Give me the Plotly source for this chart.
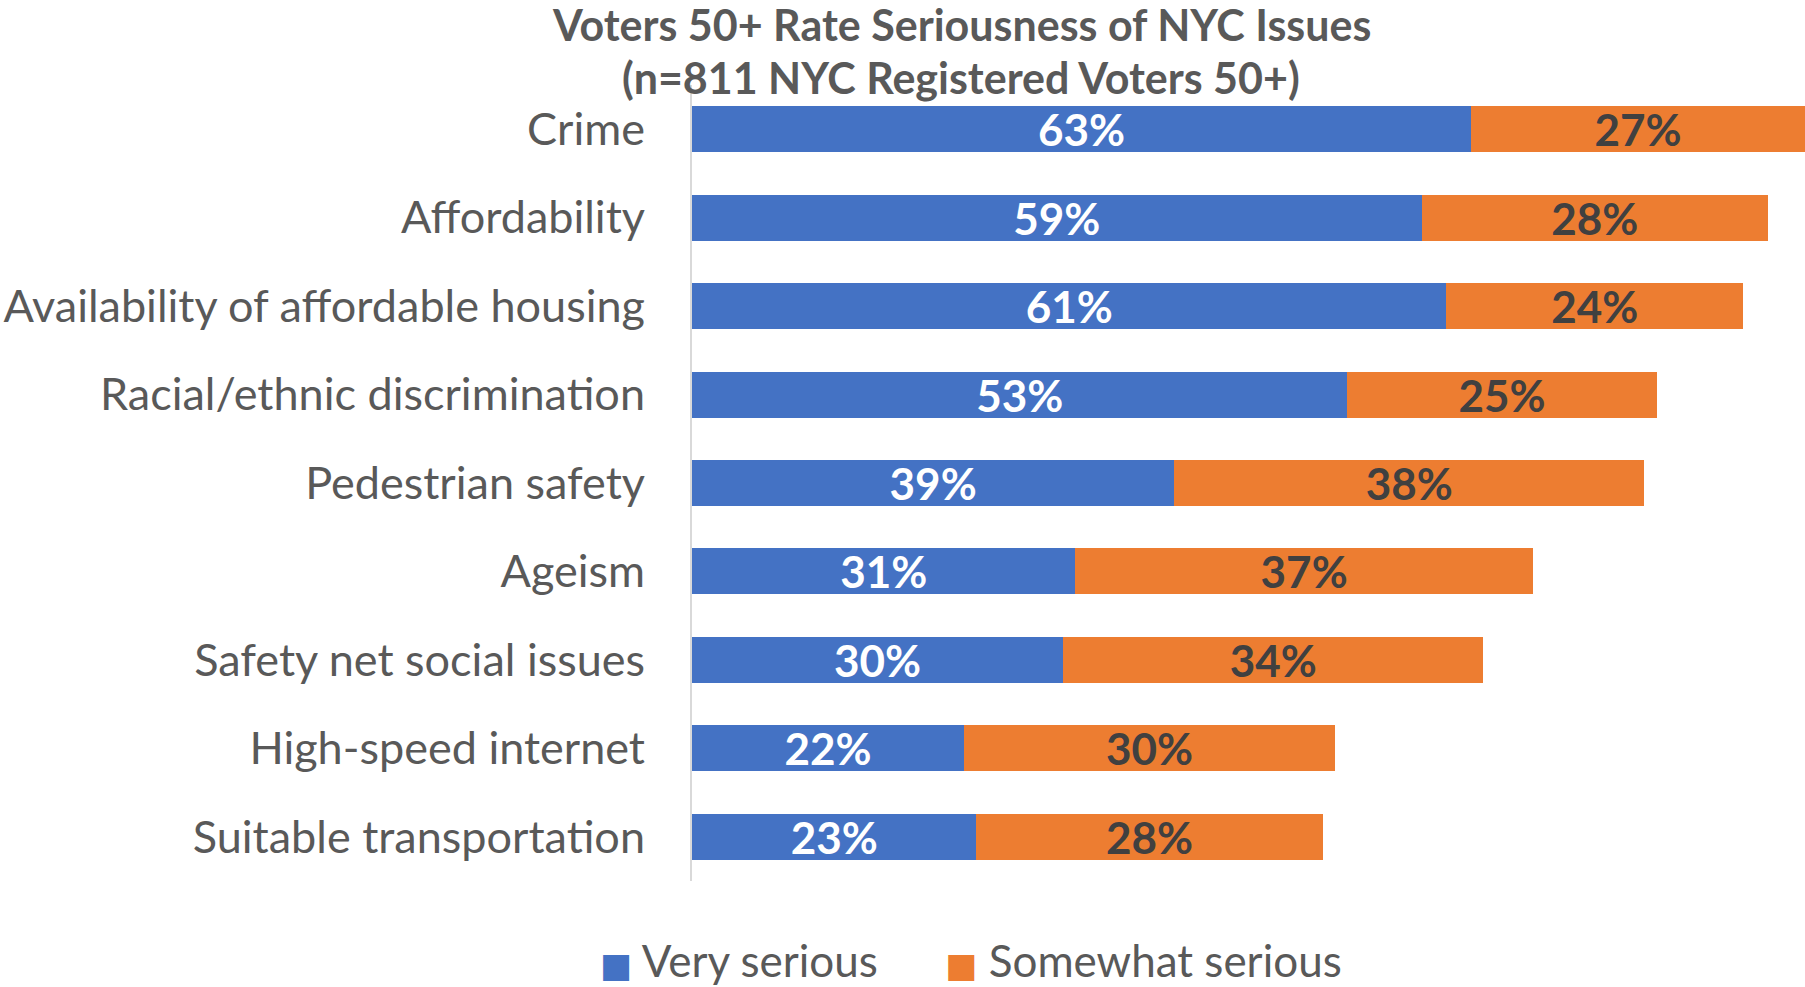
import plotly.graph_objects as go

categories = ["Crime", "Affordability", "Availability of affordable housing",
              "Racial/ethnic discrimination", "Pedestrian safety", "Ageism",
              "Safety net social issues", "High-speed internet", "Suitable transportation"]
very_serious = [63, 59, 61, 53, 39, 31, 30, 22, 23]
somewhat_serious = [27, 28, 24, 25, 38, 37, 34, 30, 28]
series_names = ["Very serious", "Somewhat serious"]
series_colors = ["#4472C4", "#ED7D31"]
label_colors = ["white", "#404040"]
title_lines = ["Voters 50+ Rate Seriousness of NYC Issues", "(n=811 NYC Registered Voters 50+)"]

W, H = 1805, 987
FONT = "Lato"
GRAY = "#595959"

fig = go.Figure()
for vals, name, col, lcol in zip([very_serious, somewhat_serious], series_names,
                                 series_colors, label_colors):
    fig.add_trace(go.Bar(
        y=categories, x=vals, orientation="h", name=name, showlegend=False,
        marker=dict(color=col, line=dict(width=0)),
        text=[f"{v}%" for v in vals], textposition="inside", constraintext="none",
        insidetextanchor="middle", textangle=0,
        textfont=dict(family=FONT, size=44, color=lcol, weight="bold"),
    ))
# legend entries with square swatch glyphs
pads = ["&nbsp;&nbsp;", ""]
for name, col, pad in zip(series_names, series_colors, pads):
    fig.add_trace(go.Scatter(
        x=[None], y=[None], mode="markers",
        name=f'<span style="color:{col};font-family:DejaVu Sans;font-size:34px">■</span> {name}{pad}',
        marker=dict(symbol="square", size=1, color="rgba(0,0,0,0)"),
    ))

for line, yc in zip(title_lines, [24, 78]):
    fig.add_annotation(
        text=f"<b>{line}</b>", xref="paper", yref="paper",
        x=(961 - 692) / (W - 692), y=1 - (yc - 85) / (881 - 85),
        xanchor="center", yanchor="middle", showarrow=False,
        font=dict(family=FONT, size=43, color=GRAY),
    )

fig.update_layout(
    width=W, height=H,
    barmode="stack", bargap=0.48,
    paper_bgcolor="white", plot_bgcolor="white",
    margin=dict(l=692, r=0, t=85, b=106, autoexpand=False),
    legend=dict(
        orientation="h", x=560 / W, xref="container", xanchor="left",
        y=1 - 960 / H, yref="container", yanchor="middle",
        font=dict(family=FONT, size=44, color=GRAY),
        traceorder="normal", tracegroupgap=0, itemwidth=30,
    ),
)
fig.update_xaxes(range=[0, 90], visible=False, showgrid=False, zeroline=False, fixedrange=True)
fig.update_yaxes(
    autorange="reversed", showline=True, linecolor="#D9D9D9", linewidth=2,
    ticks="", ticklabelstandoff=36, showgrid=False, fixedrange=True,
    tickfont=dict(family=FONT, size=45, color=GRAY),
)

fig.write_html("out.html", config={"displayModeBar": False},
               post_script="document.body.style.margin='0';document.body.style.overflow='hidden';")
